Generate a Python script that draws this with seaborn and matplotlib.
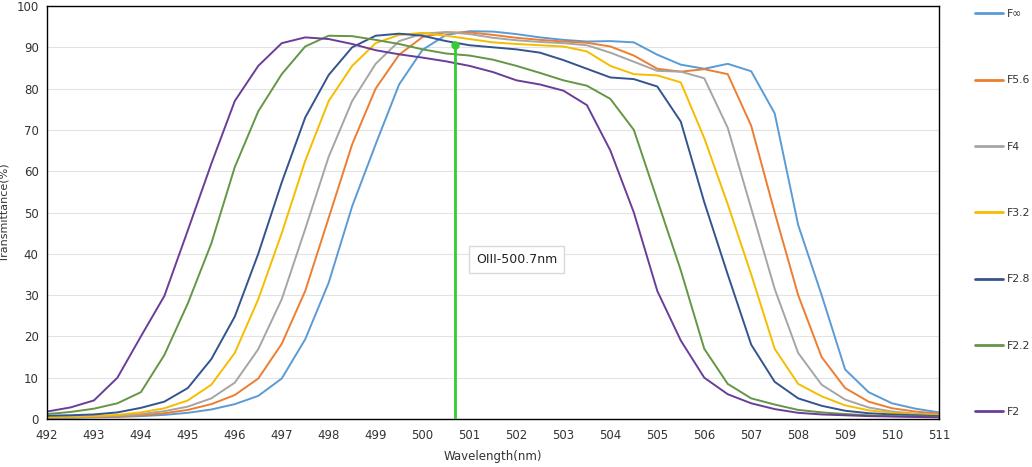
import numpy as np
import pandas as pd
import matplotlib
matplotlib.use("Agg")
import matplotlib.pyplot as plt
import seaborn as sns

# --- data (transmittance in %, every 0.5 nm) ---
wavelength = np.arange(492, 511.25, 0.5)

t_finf = [0.3, 0.3, 0.4, 0.5, 0.7, 1.0, 1.5, 2.3, 3.6, 5.6, 9.8, 19.3, 33, 51.5, 66.5, 81, 89.4,
          93, 93.9, 93.8, 93.2, 92.4, 91.8, 91.4, 91.5, 91.2, 88.2, 85.8, 84.8, 86, 84.2, 74, 47,
          30, 12, 6.5, 3.8, 2.5, 1.6]
t_f56 = [0.3, 0.4, 0.5, 0.6, 0.9, 1.4, 2.2, 3.6, 5.8, 9.8, 18.2, 31, 48.7, 66.5, 80, 88.2, 92.5,
         93.6, 93.6, 93, 92.3, 91.8, 91.4, 91.1, 90.2, 88, 84.8, 84.1, 84.7, 83.5, 71, 50, 30,
         15, 7.5, 4.2, 2.6, 1.8, 1.3]
t_f4 = [0.4, 0.5, 0.6, 0.8, 1.2, 1.9, 3.0, 5.0, 8.8, 16.9, 29, 46, 63.5, 77, 86, 91.5, 93.3,
        93.7, 93.2, 92.3, 91.7, 91.3, 91, 90.5, 88.7, 86.5, 84.3, 84.1, 82.5, 70.5, 51, 31.5, 16,
        8.3, 4.7, 2.8, 1.8, 1.3, 1.0]
t_f32 = [0.5, 0.6, 0.7, 1.0, 1.6, 2.6, 4.5, 8.3, 16, 29, 45, 62.5, 77, 85.5, 91, 93, 93.5,
         92.8, 92, 91.2, 90.8, 90.5, 90.2, 89, 85.5, 83.5, 83.2, 81.5, 68, 52, 35, 17, 8.5,
         5.5, 3.3, 2.1, 1.5, 1.1, 0.9]
t_f28 = [0.8, 0.9, 1.1, 1.6, 2.7, 4.2, 7.5, 14.5, 24.8, 40, 57.3, 73, 83.3, 90, 92.8, 93.3, 92.8,
         91.5, 90.5, 90, 89.5, 88.7, 86.9, 84.8, 82.7, 82.3, 80.5, 72, 52.5, 35, 18, 9, 5,
         3.2, 2, 1.4, 1.1, 0.9, 0.7]
t_f22 = [1.2, 1.7, 2.5, 3.8, 6.5, 15.5, 28, 42.5, 61, 74.5, 83.5, 90.2, 92.8, 92.7, 91.8, 90.8, 89.5,
         88.5, 88, 87, 85.5, 83.8, 82, 80.7, 77.5, 70, 53, 36, 17, 8.5, 5, 3.5, 2.2,
         1.6, 1.2, 0.9, 0.7, 0.6, 0.5]
t_f2 = [1.8, 2.8, 4.5, 10, 20, 29.8, 45.7, 61.8, 77, 85.5, 91, 92.4, 92, 90.8, 89.3, 88.3, 87.5,
        86.6, 85.5, 84, 82, 81, 79.5, 76, 65, 50, 31, 19, 10, 6, 3.8, 2.4, 1.5,
        1.1, 0.9, 0.7, 0.6, 0.5, 0.4]

series_names = ["F\u221e", "F5.6", "F4", "F3.2", "F2.8", "F2.2", "F2"]
series_values = [t_finf, t_f56, t_f4, t_f32, t_f28, t_f22, t_f2]
colors = ["#5B9BD5", "#ED7D31", "#A5A5A5", "#F5BD00", "#34548F", "#649645", "#6A3E98"]

oiii_wl = 500.7
oiii_top = 90.5
oiii_label = "OIII-500.7nm"

rows = []
for name, vals in zip(series_names, series_values):
    for w, v in zip(wavelength, vals):
        rows.append({"wavelength": w, "transmittance": v, "filter": name})
df = pd.DataFrame(rows)

sns.set_theme(style="white")
plt.rcParams["font.family"] = ["DejaVu Sans"]

fig = plt.figure(figsize=(10.32, 4.67), dpi=100)
ax = fig.add_axes([47 / 1032, 1 - 419 / 467, (939 - 47) / 1032, (419 - 6) / 467])

ax.yaxis.grid(True, color="#E3E3E3", linewidth=0.8)
ax.set_axisbelow(True)

sns.lineplot(data=df, x="wavelength", y="transmittance", hue="filter",
             hue_order=series_names, palette=dict(zip(series_names, colors)),
             linewidth=1.4, ax=ax, legend=True)

# OIII marker line
ax.plot([oiii_wl, oiii_wl], [0, oiii_top], color="#33CC33", linewidth=2, zorder=5)
ax.plot([oiii_wl], [oiii_top], marker="o", color="#33CC33", markersize=5, zorder=6)
ax.text(502.0, 38.7, oiii_label, ha="center", va="center", fontsize=9, color="#222222",
        bbox=dict(facecolor="white", edgecolor="#D9D9D9", boxstyle="square,pad=0.55"), zorder=7)

ax.set_xlim(492, 511)
ax.set_ylim(0, 100)
ax.set_xticks(range(492, 512))
ax.set_yticks(range(0, 101, 10))
ax.tick_params(axis="both", length=0, labelsize=8.5, labelcolor="#333333")
ax.tick_params(axis="x", pad=7)
ax.tick_params(axis="y", pad=6)
for s in ax.spines.values():
    s.set_color("black")
    s.set_linewidth(1.0)

ax.set_xlabel("Wavelength(nm)", fontsize=8.5, color="#333333", labelpad=6)
ax.set_ylabel("Transmittance(%)", fontsize=8, color="#333333")
ax.yaxis.set_label_coords(-0.042, 0.5)

leg = ax.legend(loc="upper left", bbox_to_anchor=(975 / 1032, 1 - 9 / 467),
                bbox_transform=fig.transFigure, frameon=False, fontsize=7.8,
                handlelength=2.6, handletextpad=0.3, labelspacing=5.2, borderaxespad=0,
                borderpad=0)
for line in leg.get_lines():
    line.set_linewidth(2)
for t in leg.get_texts():
    t.set_color("#333333")

fig.savefig("out.png", dpi=100)
